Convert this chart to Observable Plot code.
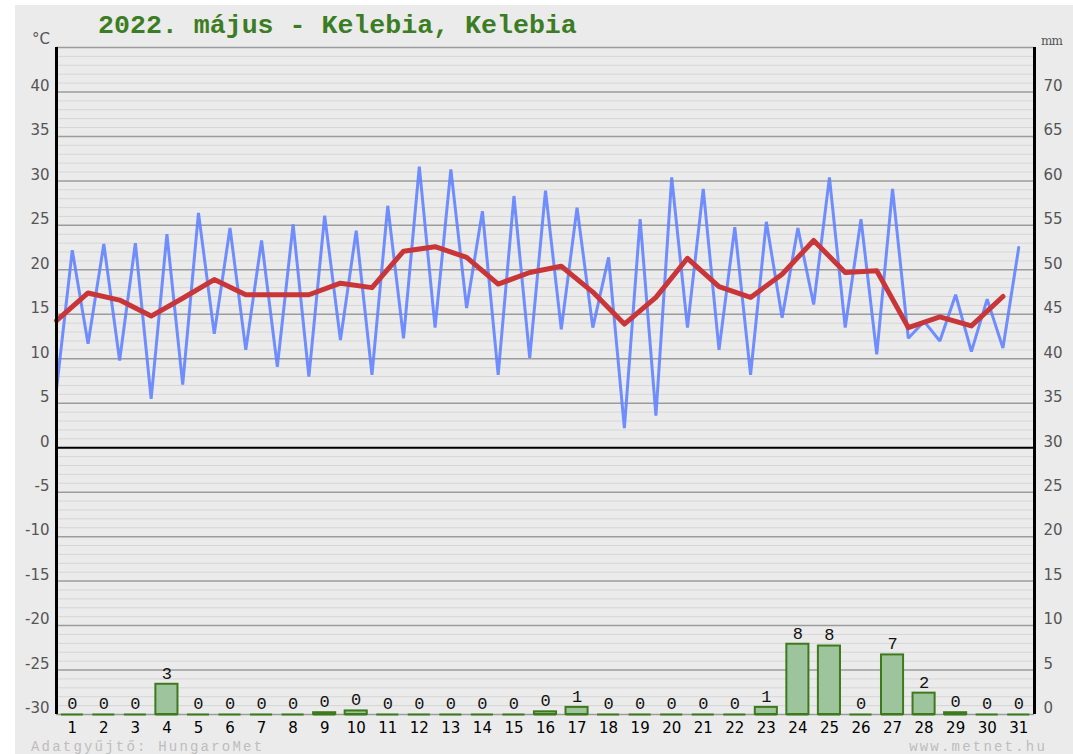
<!DOCTYPE html>
<html>
<head>
<meta charset="utf-8">
<script src="https://cdn.jsdelivr.net/npm/d3@7"></script>
<script src="https://cdn.jsdelivr.net/npm/@observablehq/plot@0.6"></script>
<style>
  html, body { margin: 0; padding: 0; background: #ffffff; width: 1073px; height: 754px; overflow: hidden; }
  #bg { position: absolute; left: 15px; top: 5px; right: 0; bottom: 0; background: #ebebeb; }
  #chart { position: absolute; left: 0; top: 0; }
  .lbl { position: absolute; white-space: nowrap; }
  #title { left: 98px; top: 13px; font: bold 26.6px/26px "Liberation Mono", "DejaVu Sans Mono", monospace; color: #3b7d23; }
  #unitC { right: calc(1073px - 50px); top: 32px; font: 15px/15px "DejaVu Sans", sans-serif; color: #555; }
  #unitMM { left: 1041px; top: 35px; font: 12px/12px "DejaVu Serif", serif; color: #555; letter-spacing: -1px; }
  #src { left: 31px; top: 740px; font: 14px/14px "Liberation Mono", monospace; color: #bdbdbd; letter-spacing: 2.2px; }
  #web { right: calc(1073px - 1047px); top: 740px; font: 14px/14px "Liberation Mono", monospace; color: #bdbdbd; letter-spacing: 2.2px; }
</style>
</head>
<body>
<div id="bg"></div>
<div id="chart"></div>
<div class="lbl" id="title">2022. május - Kelebia, Kelebia</div>
<div class="lbl" id="unitC">°C</div>
<div class="lbl" id="unitMM">mm</div>
<div class="lbl" id="src">Adatgyűjtő: HungaroMet</div>
<div class="lbl" id="web">www.metnet.hu</div>
<script>
// ---- data ----
const days = [1,2,3,4,5,6,7,8,9,10,11,12,13,14,15,16,17,18,19,20,21,22,23,24,25,26,27,28,29,30,31];
// daily minimum temperature (°C), plotted at the start of each day
const tMin = [6.6, 11.7, 9.8, 5.5, 7.1, 12.8, 11.0, 9.1, 8.0, 12.1, 8.2, 12.3, 13.5, 15.7, 8.2, 10.1,
              13.3, 13.5, 2.2, 3.6, 13.5, 11.0, 8.2, 14.6, 16.1, 13.5, 10.5, 12.3, 12.0, 10.8, 11.2];
// daily maximum temperature (°C), plotted at the middle of each day
const tMax = [22.2, 22.9, 23.0, 24.0, 26.4, 24.7, 23.3, 25.1, 26.1, 24.4, 27.2, 31.6, 31.3, 26.6, 28.3, 28.9,
              27.0, 21.4, 25.7, 30.4, 29.1, 24.8, 25.4, 24.7, 30.4, 25.7, 29.1, 14.2, 17.2, 16.7, 22.5];
// daily mean temperature (°C)
const tMean = [14.3, 17.4, 16.6, 14.8, 16.8, 18.9, 17.2, 17.2, 17.2, 18.5, 18.0, 22.1, 22.6, 21.4, 18.4, 19.7,
               20.4, 17.5, 13.9, 16.9, 21.3, 18.1, 16.9, 19.5, 23.3, 19.7, 19.9, 13.5, 14.7, 13.7, 17.0];
// daily precipitation (mm)
const precip = [0, 0, 0, 3.4, 0, 0, 0, 0, 0.2, 0.4, 0, 0, 0, 0, 0, 0.3,
                0.8, 0, 0, 0, 0, 0, 0.8, 7.9, 7.7, 0, 6.7, 2.4, 0.2, 0, 0];

// axes
const tempDomain = [-30, 45];           // left axis °C
const mmOffset = 30;                    // right axis: mm = °C + 30
const tempTicks = [-30,-25,-20,-15,-10,-5,0,5,10,15,20,25,30,35,40];
const majorGrid = [-25,-20,-15,-10,-5,5,10,15,20,25,30,35,40];
const minorGrid = d3.range(-29, 45).filter(v => v % 5 !== 0);
const edgeGrid = [-30, 45];
const zeroLine = [0];
const xDomain = [0.5, 31.5];

// ---- build tables ----
const tempPts = [];
days.forEach((d, i) => {
  tempPts.push({x: d - 0.5, t: tMin[i]});
  tempPts.push({x: d, t: tMax[i]});
});
const meanPts = days.map((d, i) => ({x: d - 0.5, t: tMean[i]}));
const rain = days.map((d, i) => ({day: d, mm: precip[i]}));
const base = tempDomain[0];
const barHalf = 0.35;

const chart = Plot.plot({
  width: 1073,
  height: 754,
  marginLeft: 56,
  marginRight: 39,
  marginTop: 47,
  marginBottom: 40,
  style: {background: "transparent", fontFamily: "DejaVu Sans, sans-serif"},
  x: {domain: xDomain, axis: null},
  y: {domain: tempDomain, axis: null},
  marks: [
    Plot.ruleY(minorGrid, {stroke: "#d6d6d6", strokeWidth: 1}),
    Plot.ruleY(majorGrid, {stroke: "#9c9c9c", strokeWidth: 1.5}),
    Plot.ruleY(edgeGrid, {stroke: "#9c9c9c", strokeWidth: 1.5}),
    Plot.ruleY(zeroLine, {stroke: "#000", strokeWidth: 2}),
    // precipitation baseline segments
    Plot.ruleY(rain, {y: () => base, x1: d => d.day - barHalf, x2: d => d.day + barHalf,
                      stroke: "#3c7a1c", strokeWidth: 2}),
    // precipitation bars
    Plot.rect(rain.filter(d => d.mm > 0), {
      x1: d => d.day - barHalf, x2: d => d.day + barHalf,
      y1: () => base, y2: d => base + d.mm,
      fill: "#9dc49c", stroke: "#3c7a1c", strokeWidth: 2
    }),
    Plot.text(rain, {
      x: "day", y: d => base + d.mm, text: d => String(Math.round(d.mm)),
      dy: -11, fontSize: 17, fill: "#111", fontFamily: "Liberation Mono, monospace"
    }),
    // temperatures
    Plot.line(tempPts, {x: "x", y: "t", stroke: "#6283ff", strokeWidth: 3, strokeOpacity: 0.9,
                        strokeLinejoin: "miter", curve: "linear"}),
    Plot.line(meanPts, {x: "x", y: "t", stroke: "#c8363a", strokeWidth: 5, strokeLinejoin: "round",
                        curve: "linear"}),
    // side axes lines
    Plot.ruleX(xDomain, {stroke: "#000", strokeWidth: 3}),
    // tick labels
    Plot.axisY({anchor: "left", ticks: tempTicks, tickFormat: d => String(d), tickSize: 0, tickPadding: 7, dy: -6,
                fontSize: 15, fill: "#555", label: null, fontFamily: "DejaVu Sans, sans-serif"}),
    Plot.axisY({anchor: "right", ticks: tempTicks, tickFormat: d => String(d + mmOffset), tickSize: 0,
                tickPadding: 9, dy: -6, fontSize: 15, fill: "#555", label: null,
                fontFamily: "DejaVu Sans, sans-serif"}),
    Plot.axisX({ticks: days, tickFormat: d => String(d), tickSize: 0, tickPadding: 8, fontSize: 15, fill: "#000", label: null,
                fontFamily: "DejaVu Sans, sans-serif"})
  ]
});
document.getElementById("chart").appendChild(chart);
</script>
</body>
</html>
